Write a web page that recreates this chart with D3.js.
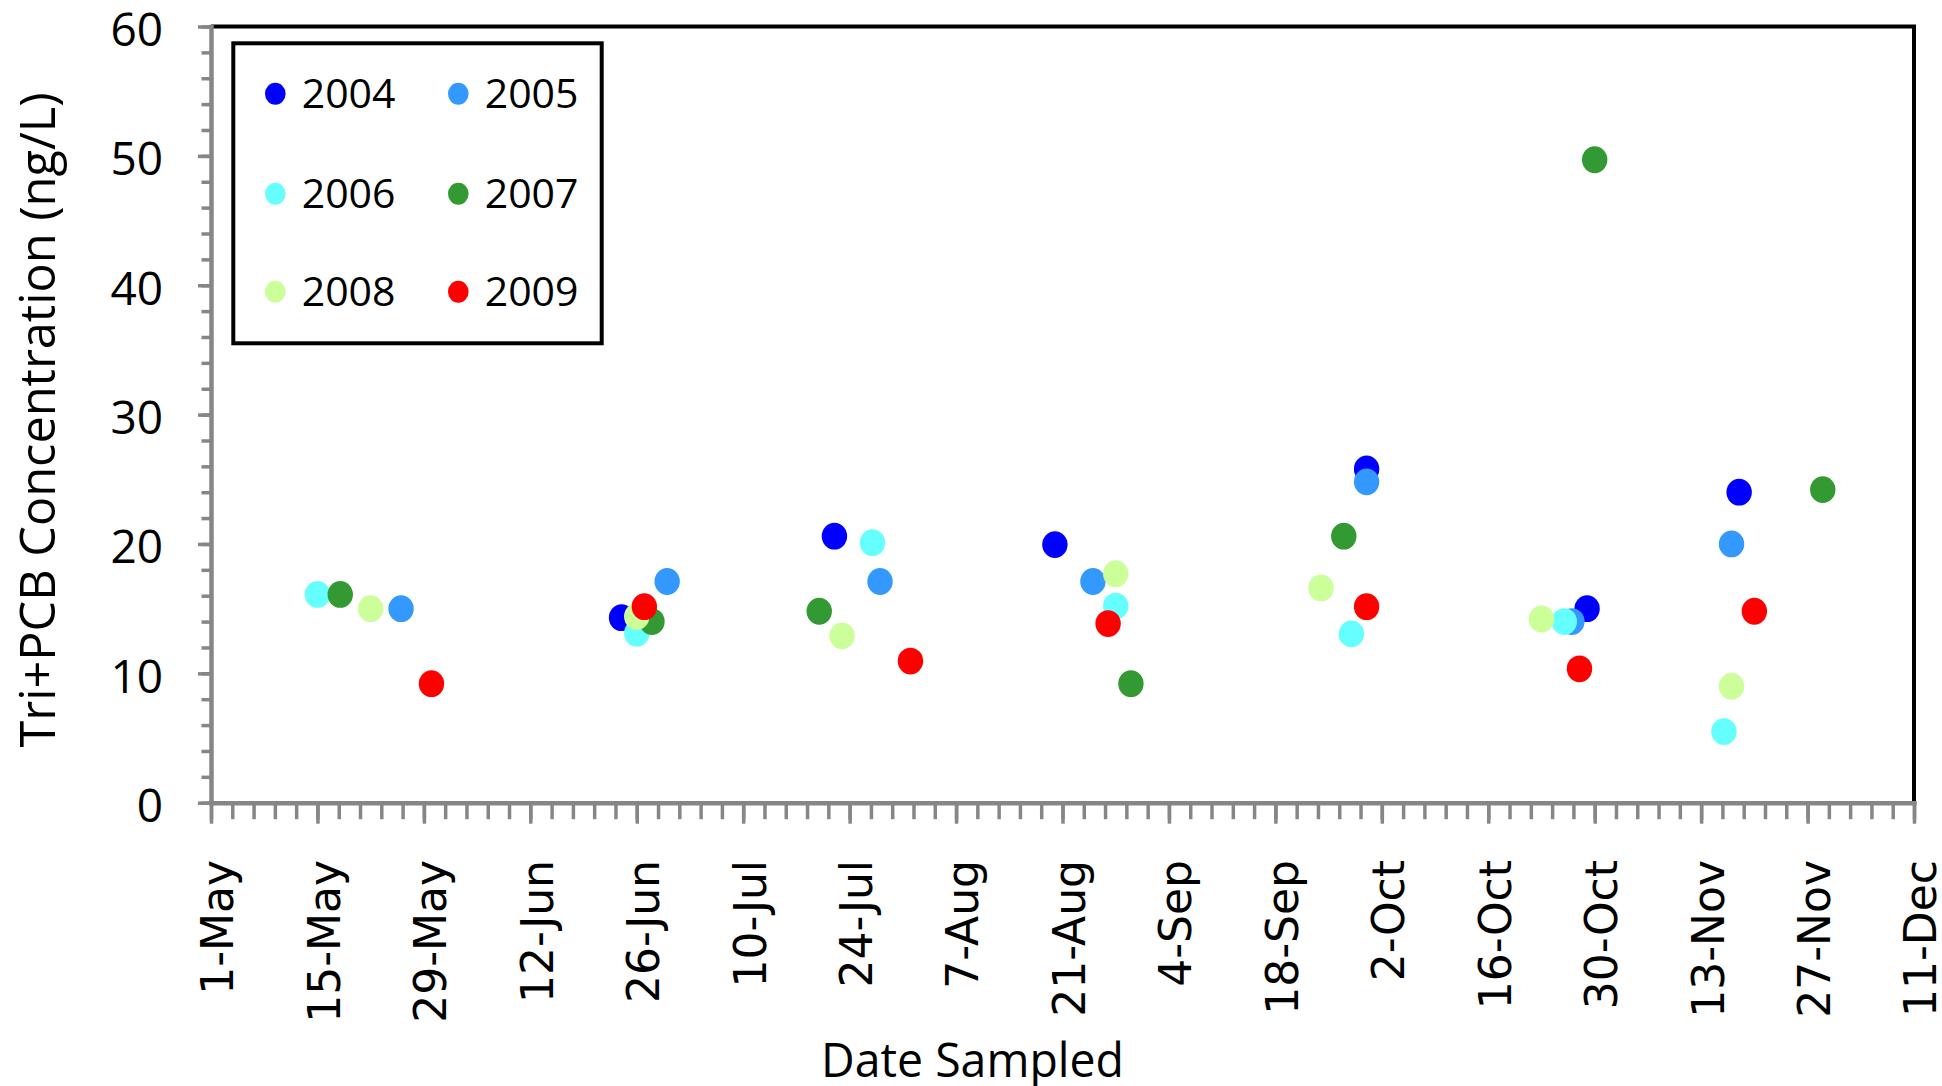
<!DOCTYPE html>
<html>
<head>
<meta charset="utf-8">
<script src="https://cdn.jsdelivr.net/npm/d3@7/dist/d3.min.js"></script>
<style>
  body { margin: 0; background: #fff; }
  svg { display: block; }
</style>
</head>
<body>
<div id="chart"></div>
<script>
// series order = drawing order (later years sit on top)
const years = ['2004', '2005', '2006', '2007', '2008', '2009'];
const colors = ['#0000ff', '#3399ff', '#66ffff', '#339933', '#ccff99', '#ff0000'];

// [month-day sampled, Tri+PCB ng/L]
const samples2004 = [['06-24', 14.3], ['07-22', 20.6], ['08-20', 19.95], ['09-30', 25.8], ['10-29', 15.0], ['11-18', 24.0]];
const samples2005 = [['05-26', 15.0], ['06-30', 17.1], ['07-28', 17.1], ['08-25', 17.1], ['09-30', 24.8], ['10-27', 14.0], ['11-17', 20.0]];
const samples2006 = [['05-15', 16.1], ['06-26', 13.1], ['07-27', 20.1], ['08-28', 15.2], ['09-28', 13.05], ['10-26', 14.0], ['11-16', 5.5]];
const samples2007 = [['05-18', 16.1], ['06-28', 14.0], ['07-20', 14.8], ['08-30', 9.2], ['09-27', 20.6], ['10-30', 49.7], ['11-29', 24.2]];
const samples2008 = [['05-22', 15.0], ['06-26', 14.4], ['07-23', 12.9], ['08-28', 17.7], ['09-24', 16.6], ['10-23', 14.2], ['11-17', 9.0]];
const samples2009 = [['05-30', 9.2], ['06-27', 15.15], ['08-01', 10.95], ['08-27', 13.85], ['09-30', 15.15], ['10-28', 10.35], ['11-20', 14.8]];

const xTickDays = ['05-01', '05-15', '05-29', '06-12', '06-26', '07-10', '07-24', '08-07', '08-21',
                   '09-04', '09-18', '10-02', '10-16', '10-30', '11-13', '11-27', '12-11'];
const yTicks = [0, 10, 20, 30, 40, 50, 60];

const parseDay = d3.timeParse('%Y-%m-%d');
const toDate = s => parseDay('2001-' + s);

const W = 1942, H = 1086;
const plot = { left: 211, right: 1914, top: 26.5, bottom: 802.7 };
const AXIS_GREY = '#868686';
const CAL = "'Open Sans', sans-serif";

const series = years.map((year, i) => ({
    year,
    color: colors[i],
    points: [samples2004, samples2005, samples2006, samples2007, samples2008, samples2009][i]
        .map(([d, v]) => ({ date: toDate(d), value: v }))
}));

const svg = d3.select('#chart').append('svg')
    .attr('width', W)
    .attr('height', H);

svg.append('rect').attr('width', W).attr('height', H).attr('fill', '#fff');

const x = d3.scaleTime()
    .domain([toDate(xTickDays[0]), toDate(xTickDays[xTickDays.length - 1])])
    .range([plot.left, plot.right]);

const y = d3.scaleLinear()
    .domain([0, 60])
    .range([plot.bottom, plot.top]);

// plot area frame (top + right show black, left + bottom covered by the axes)
svg.append('path')
    .attr('d', `M${plot.left},${plot.top}H${plot.right}V${plot.bottom}`)
    .attr('fill', 'none')
    .attr('stroke', '#000')
    .attr('stroke-width', 4);

// minor ticks: 5 steps per major interval
const xStart = x.domain()[0];
const minorStep = 14 / 5 * 864e5;
const xMinor = d3.range(0, 81).map(i => new Date(+xStart + i * minorStep));

svg.append('g')
    .attr('transform', `translate(0,${plot.bottom})`)
    .call(d3.axisBottom(x).tickValues(xMinor).tickSize(16.5).tickFormat(''))
    .call(g => g.select('.domain').remove())
    .call(g => g.selectAll('line').attr('stroke', AXIS_GREY).attr('stroke-width', 3.5));

svg.append('g')
    .attr('transform', `translate(${plot.left},0)`)
    .call(d3.axisLeft(y).tickValues(d3.range(0, 61, 2)).tickSize(9.5).tickFormat(''))
    .call(g => g.select('.domain').remove())
    .call(g => g.selectAll('line').attr('stroke', AXIS_GREY).attr('stroke-width', 3.5));

// major x axis
const xAxis = svg.append('g')
    .attr('transform', `translate(0,${plot.bottom})`)
    .call(d3.axisBottom(x)
        .tickValues(xTickDays.map(toDate))
        .tickSize(21)
        .tickSizeOuter(0)
        .tickFormat(d3.timeFormat('%-d-%b')));

xAxis.select('.domain')
    .attr('stroke', AXIS_GREY)
    .attr('stroke-width', 4.5)
    .attr('stroke-linecap', 'square');
xAxis.selectAll('line').attr('stroke', AXIS_GREY).attr('stroke-width', 3.5);
xAxis.selectAll('text')
    .attr('transform', 'rotate(-90)')
    .attr('text-anchor', 'end')
    .attr('x', -(860 - plot.bottom))
    .attr('y', 6.5)
    .attr('dy', '0.35em')
    .attr('fill', '#000')
    .style('font-family', "'DejaVu Sans', sans-serif")
    .style('font-size', '44px');

// major y axis
const yAxis = svg.append('g')
    .attr('transform', `translate(${plot.left},0)`)
    .call(d3.axisLeft(y)
        .tickValues(yTicks)
        .tickSize(13)
        .tickSizeOuter(0)
        .tickPadding(35)
        .tickFormat(d3.format('d')));

yAxis.select('.domain')
    .attr('stroke', AXIS_GREY)
    .attr('stroke-width', 4.5)
    .attr('stroke-linecap', 'square');
yAxis.selectAll('line').attr('stroke', AXIS_GREY).attr('stroke-width', 3.5);
yAxis.selectAll('text')
    .attr('dy', '0.41em')
    .attr('fill', '#000')
    .style('font-family', CAL)
    .style('font-size', '46px');

// points
const pts = svg.append('g');
series.forEach(s => {
    pts.append('g')
        .selectAll('ellipse')
        .data(s.points)
        .join('ellipse')
        .attr('cx', d => x(d.date))
        .attr('cy', d => y(d.value))
        .attr('rx', 12.7)
        .attr('ry', 13.4)
        .attr('fill', s.color);
});

// axis titles
svg.append('text')
    .attr('transform', 'translate(55,420) rotate(-90)')
    .attr('text-anchor', 'middle')
    .attr('textLength', 655)
    .attr('lengthAdjust', 'spacingAndGlyphs')
    .style('font-family', CAL)
    .style('font-size', '49px')
    .text('Tri+PCB Concentration (ng/L)');

svg.append('text')
    .attr('x', 972.5)
    .attr('y', 1077)
    .attr('text-anchor', 'middle')
    .attr('textLength', 303)
    .attr('lengthAdjust', 'spacingAndGlyphs')
    .style('font-family', CAL)
    .style('font-size', '47px')
    .text('Date Sampled');

// legend
const legend = svg.append('g');
legend.append('rect')
    .attr('x', 233.3)
    .attr('y', 43.3)
    .attr('width', 368.4)
    .attr('height', 300)
    .attr('fill', '#fff')
    .attr('stroke', '#000')
    .attr('stroke-width', 4);

const legendCols = [275.3, 458.3];
const legendRows = [93.7, 193.7, 291.7];

series.forEach((s, i) => {
    const lx = legendCols[i % 2];
    const ly = legendRows[Math.floor(i / 2)];
    legend.append('ellipse')
        .attr('cx', lx)
        .attr('cy', ly)
        .attr('rx', 10.3)
        .attr('ry', 11)
        .attr('fill', s.color);
    legend.append('text')
        .attr('x', lx + 26.4)
        .attr('y', ly)
        .attr('dy', '0.36em')
        .style('font-family', CAL)
        .style('font-size', '41px')
        .text(s.year);
});
</script>
</body>
</html>
